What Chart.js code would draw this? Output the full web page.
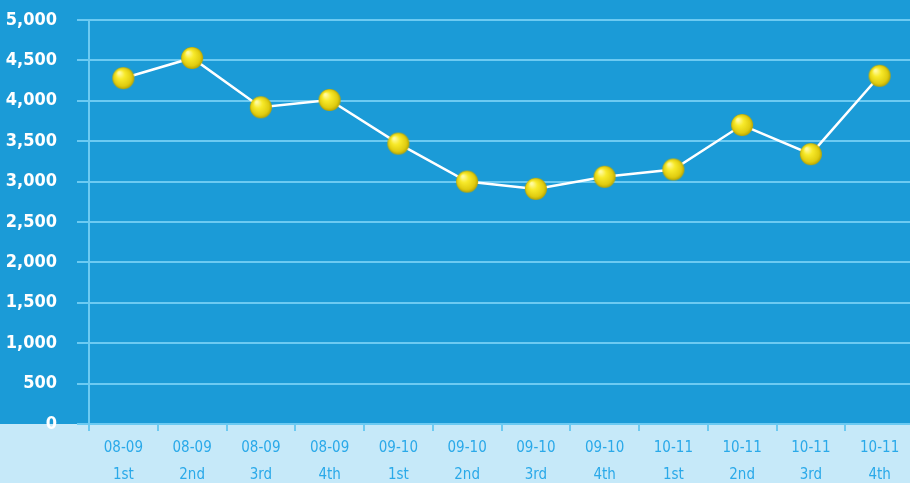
<!DOCTYPE html>
<html>
<head>
<meta charset="utf-8">
<script src="https://cdn.jsdelivr.net/npm/chart.js@4"></script>
<style>
    html, body { margin: 0; padding: 0; overflow: hidden; background: #c6e9f9; }
    #wrap { width: 914px; height: 483px; }
</style>
</head>
<body>
<div id="wrap"><canvas id="chart"></canvas></div>
<script>
// adatok
const seasons = ['08-09', '08-09', '08-09', '08-09', '09-10', '09-10', '09-10', '09-10', '10-11', '10-11', '10-11', '10-11'];
const quarters = ['1st', '2nd', '3rd', '4th', '1st', '2nd', '3rd', '4th', '1st', '2nd', '3rd', '4th'];
const values = [4280, 4530, 3920, 4010, 3470, 3000, 2910, 3060, 3150, 3700, 3340, 4310];
const yTicks = [0, 500, 1000, 1500, 2000, 2500, 3000, 3500, 4000, 4500, 5000];

const fontFamily = "'DejaVu Sans Condensed', 'Liberation Sans Narrow', sans-serif";
const gridColor = '#6ccaf2';

// sárga golyó a pontokhoz
function makeBall(r) {
    const c = document.createElement('canvas');
    c.width = r * 2 + 2;
    c.height = r * 2 + 2;
    const g = c.getContext('2d');
    const grad = g.createRadialGradient(r * 0.7, r * 0.6, 1, r + 1, r + 1, r);
    grad.addColorStop(0, '#fffaa0');
    grad.addColorStop(0.35, '#f8ea2a');
    grad.addColorStop(0.8, '#e0cc10');
    grad.addColorStop(1, '#b8a400');
    g.fillStyle = grad;
    g.beginPath();
    g.arc(r + 1, r + 1, r, 0, Math.PI * 2);
    g.fill();
    return c;
}
const ball = makeBall(11);

// háttér: kék a rajzterület alsó széléig, alatta világoskék
const bgPlugin = {
    id: 'bg',
    beforeDraw(chart) {
        const ctx = chart.ctx;
        const bottom = chart.chartArea.bottom;
        ctx.save();
        ctx.fillStyle = '#1b9bd7';
        ctx.fillRect(0, 0, chart.width, bottom);
        ctx.fillStyle = '#c6e9f9';
        ctx.fillRect(0, bottom, chart.width, chart.height - bottom);
        ctx.restore();
    }
};

const ctx = document.getElementById('chart').getContext('2d');
const chart = new Chart(ctx, {
    type: 'line',
    data: {
        labels: seasons.map((s, i) => [s, quarters[i]]),
        datasets: [
            {
                data: values,
                borderColor: '#ffffff',
                borderWidth: 2.5,
                tension: 0,
                pointStyle: ball,
                pointRadius: 11,
                pointHoverRadius: 11
            }
        ]
    },
    options: {
        responsive: true,
        maintainAspectRatio: false,
        animation: false,
        layout: {
            autoPadding: false,
            padding: { top: 20, right: 0, left: 0, bottom: 0 }
        },
        plugins: {
            legend: { display: false },
            tooltip: { enabled: false }
        },
        scales: {
            x: {
                offset: true,
                afterFit(scale) { scale.height = 59; scale.paddingLeft = 0; scale.paddingRight = 0; },
                grid: {
                    offset: true,
                    drawOnChartArea: false,
                    drawTicks: true,
                    tickLength: 7,
                    color: gridColor,
                    lineWidth: 2
                },
                border: { display: true, color: gridColor, width: 2 },
                ticks: {
                    color: '#2aa9e9',
                    padding: 4,
                    autoSkip: false,
                    maxRotation: 0,
                    font: { family: fontFamily, size: 15, lineHeight: 1.8 }
                }
            },
            y: {
                min: 0,
                max: 5000,
                afterFit(scale) { scale.width = 89; scale.paddingTop = 0; scale.paddingBottom = 0; },
                afterBuildTicks(scale) {
                    scale.ticks = yTicks.map(v => ({ value: v }));
                },
                grid: {
                    color: gridColor,
                    lineWidth: 2,
                    drawTicks: true,
                    tickLength: 12
                },
                border: { display: true, color: gridColor, width: 2 },
                ticks: {
                    color: '#ffffff',
                    padding: 20,
                    font: { family: fontFamily, size: 18, weight: 'bold' },
                    callback: v => v.toLocaleString('en-US')
                }
            }
        }
    },
    plugins: [bgPlugin]
});
</script>
</body>
</html>
